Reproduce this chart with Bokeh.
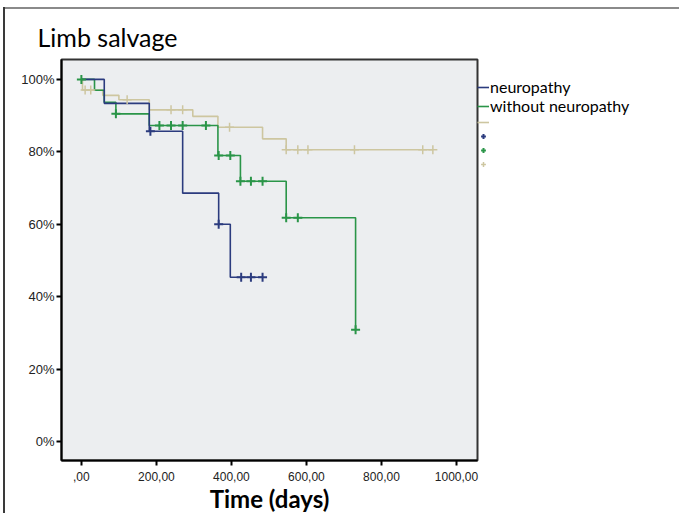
from bokeh.plotting import figure
from bokeh.models import (Range1d, NumeralTickFormatter, Legend, LegendItem, Title, FixedTicker)
from bokeh.embed import file_html
from bokeh.resources import INLINE

# ---- data ----
blue_t = [0, 61, 181, 270, 366, 397, 483]
blue_s = [1.0, 0.934, 0.857, 0.686, 0.600, 0.454, 0.454]
blue_cens_t = [184, 366, 426, 452, 483]
blue_cens_s = [0.857, 0.600, 0.454, 0.454, 0.454]

green_t = [0, 35, 61, 92, 181, 364, 424, 546, 731]
green_s = [1.0, 0.970, 0.937, 0.905, 0.873, 0.790, 0.719, 0.618, 0.309]
green_cens_t = [0, 92, 208, 239, 270, 332, 366, 397, 424, 452, 483, 546, 577, 731]
green_cens_s = [1.0, 0.905, 0.873, 0.873, 0.873, 0.873, 0.790, 0.790, 0.719, 0.719, 0.719, 0.618, 0.618, 0.309]

tan_t = [0, 3, 57, 100, 181, 297, 364, 483, 546, 937]
tan_s = [1.0, 0.971, 0.956, 0.944, 0.916, 0.898, 0.868, 0.836, 0.806, 0.806]
tan_cens_t = [10, 25, 122, 239, 270, 395, 546, 577, 604, 728, 910, 937]
tan_cens_s = [0.971, 0.971, 0.944, 0.916, 0.916, 0.868, 0.806, 0.806, 0.806, 0.806, 0.806, 0.806]

x_ticks = [0, 200, 400, 600, 800, 1000]
x_tick_labels = [",00", "200,00", "400,00", "600,00", "800,00", "1000,00"]
y_ticks = [0, 0.2, 0.4, 0.6, 0.8, 1.0]

series_labels = ["neuropathy", "without neuropathy"]

BLUE = "#2b3b7e"
GREEN = "#2a9548"
TAN = "#cdc6a0"

p = figure(frame_width=416, frame_height=401, output_backend="svg", toolbar_location=None,
           x_range=Range1d(-53, 1056), y_range=Range1d(-0.052, 1.055),
           min_border_left=61, min_border_right=202, min_border_top=59, min_border_bottom=52)

p.background_fill_color = "#eceef0"
p.border_fill_alpha = 0
p.styles = {"background": "linear-gradient(#3a3a3a,#3a3a3a) 3px 7px / 2px calc(100% - 7px) no-repeat, "
                          "linear-gradient(#8a8a8a,#8a8a8a) 3px 7px / calc(100% - 3px) 2px no-repeat, white"}
p.outline_line_color = "#333333"
p.outline_line_width = 2
p.grid.visible = False

r_tan = p.step(tan_t, tan_s, mode="after", line_color=TAN, line_width=1.6)
r_green = p.step(green_t, green_s, mode="after", line_color=GREEN, line_width=1.6)
r_blue = p.step(blue_t, blue_s, mode="after", line_color=BLUE, line_width=1.6)

c_tan = p.scatter(tan_cens_t, tan_cens_s, marker="cross", size=9, line_color=TAN, line_width=1.5)
c_green = p.scatter(green_cens_t, green_cens_s, marker="cross", size=9, line_color=GREEN, line_width=2)
c_blue = p.scatter(blue_cens_t, blue_cens_s, marker="cross", size=9, line_color=BLUE, line_width=2)

# axes
p.xaxis.ticker = FixedTicker(ticks=x_ticks)
p.xaxis.major_label_overrides = {t: l for t, l in zip(x_ticks, x_tick_labels)}
p.yaxis.ticker = FixedTicker(ticks=y_ticks)
p.yaxis.formatter = NumeralTickFormatter(format="0%")
for ax in (p.xaxis, p.yaxis):
    ax.axis_line_color = "black"
    ax.axis_line_width = 2
    ax.major_tick_line_color = "black"
    ax.major_tick_line_width = 2
    ax.major_tick_out = 5
    ax.major_tick_in = 0
    ax.minor_tick_line_color = None
    ax.major_label_text_font = "Liberation Sans"
    ax.major_label_text_color = "#222222"
p.xaxis.major_label_text_font_size = "12px"
p.yaxis.major_label_text_font_size = "13px"
p.yaxis.major_label_standoff = 2
p.xaxis.major_label_standoff = 6

p.xaxis.axis_label = "Time (days)"
p.xaxis.axis_label_text_font = "Lato"
p.xaxis.axis_label_text_font_size = "24px"
p.xaxis.axis_label_text_font_style = "bold"
p.xaxis.axis_label_text_color = "black"
p.xaxis.axis_label_standoff = 0

p.title = Title(text="Limb salvage", text_font="Lato", text_font_size="25px",
                text_font_style="normal", text_color="black", align="left", offset=-24,
                standoff=15)

# legend (outside, right of the frame)
leg = Legend(items=[LegendItem(label=series_labels[0], renderers=[r_blue]),
                    LegendItem(label=series_labels[1], renderers=[r_green]),
                    LegendItem(label=" ", renderers=[r_tan]),
                    LegendItem(label=" ", renderers=[c_blue]),
                    LegendItem(label=" ", renderers=[c_green]),
                    LegendItem(label=" ", renderers=[c_tan])],
             location="top_left", orientation="vertical",
             title=" ", title_text_font_size="10px", title_standoff=7,
             background_fill_alpha=0, border_line_color=None,
             padding=0, margin=0, spacing=0,
             glyph_width=12, glyph_height=14, label_height=14,
             label_standoff=1, label_text_line_height=0.9,
             label_text_font="Lato", label_text_font_size="16px",
             label_text_color="black")
p.add_layout(leg, "right")

open("out.html", "w").write(file_html(p, INLINE))
